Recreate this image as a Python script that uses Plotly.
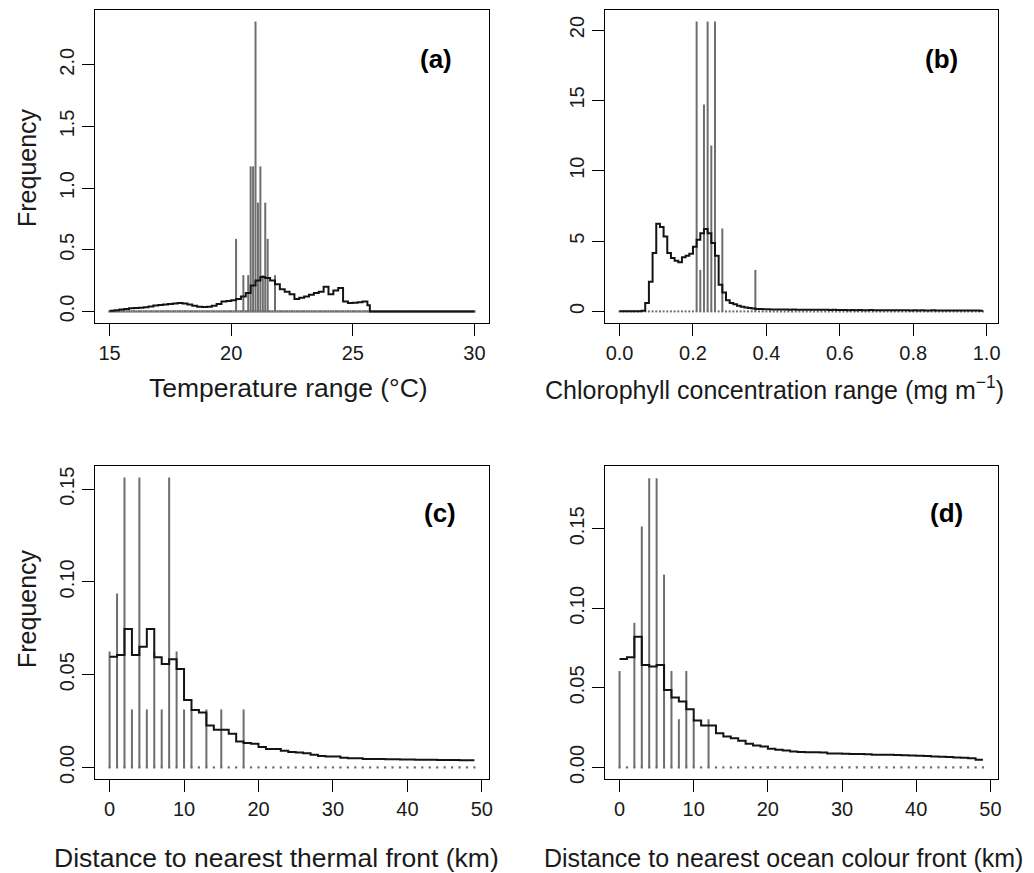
import plotly.graph_objects as go

W, H = 1034, 873

# ---------------- data ----------------
# (a) Temperature range
a_grid_start, a_grid_step, a_grid_n = 15.0, 0.1, 151
a_spike_x = [20.2, 20.5, 20.7, 20.8, 20.9, 21.0, 21.1, 21.2, 21.3, 21.4, 21.5, 21.8]
a_spike_y = [0.588, 0.294, 0.294, 1.176, 1.176, 2.35, 0.882, 1.176, 0.294, 0.882, 0.588, 0.294]
a_step_start, a_step_width = 15.0, 0.2
a_step_y = [0.005, 0.010, 0.015, 0.020, 0.025, 0.027, 0.030, 0.033, 0.040, 0.048,
            0.052, 0.056, 0.060, 0.064, 0.068, 0.064, 0.055, 0.045, 0.038, 0.035,
            0.037, 0.045, 0.060, 0.080, 0.085, 0.090, 0.100, 0.120, 0.150, 0.210,
            0.250, 0.280, 0.270, 0.250, 0.220, 0.180, 0.160, 0.140, 0.100, 0.110,
            0.120, 0.135, 0.150, 0.160, 0.200, 0.140, 0.170, 0.190, 0.080, 0.068,
            0.070, 0.075, 0.080, 0.050]
a_step_end, a_xmax = 25.7, 30.0

# (b) Chlorophyll concentration range
b_grid_start, b_grid_step, b_grid_n = 0.0, 0.01, 100
b_spike_x = [0.21, 0.22, 0.23, 0.24, 0.25, 0.26, 0.28, 0.37]
b_spike_y = [20.6, 2.95, 14.7, 20.6, 11.8, 20.6, 5.9, 2.95]
b_step_start, b_step_width = 0.0, 0.01
b_step_y = [0.02, 0.02, 0.02, 0.02, 0.02, 0.02, 0.05, 0.60, 2.10, 4.15,
            6.23, 6.00, 5.33, 4.15, 3.79, 3.60, 3.50, 3.85, 3.95, 4.10,
            4.60, 5.10, 5.56, 5.85, 5.56, 4.86, 3.95, 1.90, 1.35, 0.80,
            0.60, 0.50, 0.40, 0.33, 0.28, 0.24, 0.20, 0.17, 0.17, 0.16,
            0.15, 0.14, 0.14, 0.13, 0.14, 0.13, 0.12, 0.13, 0.12, 0.12,
            0.12, 0.11, 0.12, 0.11, 0.11, 0.12, 0.11, 0.10, 0.11, 0.10,
            0.10, 0.10, 0.09, 0.10, 0.09, 0.10, 0.09, 0.09, 0.10, 0.09,
            0.08, 0.09, 0.08, 0.09, 0.08, 0.08, 0.09, 0.08, 0.08, 0.07,
            0.08, 0.07, 0.08, 0.07, 0.07, 0.08, 0.07, 0.07, 0.06, 0.07,
            0.07, 0.06, 0.07, 0.06, 0.06, 0.07, 0.06, 0.06, 0.05]

# (c) Distance to nearest thermal front (km)
c_spike_y = [0.0625, 0.09375, 0.15625, 0.03125, 0.15625, 0.03125, 0.0625, 0.03125,
             0.15625, 0.0625, 0.03125, 0.03125, 0.0, 0.03125, 0.0, 0.03125, 0.0, 0.0,
             0.03125] + [0.0] * 31
c_step_y = [0.0597, 0.0606, 0.0746, 0.0606, 0.0651, 0.0746, 0.0594, 0.0558, 0.0583, 0.0531,
            0.0364, 0.0310, 0.0296, 0.0226, 0.0203, 0.0203, 0.0181, 0.0140, 0.0131, 0.0127,
            0.0110, 0.0099, 0.0099, 0.0090, 0.0083, 0.0081, 0.0077, 0.0068, 0.0061, 0.0059,
            0.0059, 0.0052, 0.0050, 0.0049, 0.0046, 0.0045, 0.0045, 0.0044, 0.0044, 0.0043,
            0.0042, 0.0041, 0.0041, 0.0041, 0.0040, 0.0040, 0.0040, 0.0039, 0.0038]

# (d) Distance to nearest ocean colour front (km)
d_spike_y = [0.0606, 0.0, 0.0909, 0.1515, 0.1818, 0.1818, 0.1212, 0.0606, 0.0303, 0.0606,
             0.0303, 0.0, 0.0303] + [0.0] * 37
d_step_y = [0.0682, 0.0692, 0.0822, 0.0644, 0.0634, 0.0644, 0.0487, 0.0439, 0.0414, 0.0366,
            0.0295, 0.0263, 0.0263, 0.0215, 0.0194, 0.0184, 0.0167, 0.0148, 0.0138, 0.0132,
            0.0117, 0.0111, 0.0107, 0.0100, 0.0097, 0.0096, 0.0095, 0.0094, 0.0088, 0.0087,
            0.0086, 0.0085, 0.0084, 0.0083, 0.0080, 0.0079, 0.0079, 0.0078, 0.0077, 0.0075,
            0.0073, 0.0071, 0.0069, 0.0067, 0.0065, 0.0062, 0.0060, 0.0057, 0.0048]

a_xticks = [15, 20, 25, 30]
a_yticks = [0.0, 0.5, 1.0, 1.5, 2.0]
a_yticklabels = ["0.0", "0.5", "1.0", "1.5", "2.0"]
b_xticks = [0.0, 0.2, 0.4, 0.6, 0.8, 1.0]
b_xticklabels = ["0.0", "0.2", "0.4", "0.6", "0.8", "1.0"]
b_yticks = [0, 5, 10, 15, 20]
cd_xticks = [0, 10, 20, 30, 40, 50]
cd_yticks = [0.0, 0.05, 0.10, 0.15]
cd_yticklabels = ["0.00", "0.05", "0.10", "0.15"]

panel_labels = ["(a)", "(b)", "(c)", "(d)"]
x_titles = ["Temperature range (°C)",
            "Chlorophyll concentration range (mg m<sup>−1</sup>)",
            "Distance to nearest thermal front (km)",
            "Distance to nearest ocean colour front (km)"]
y_title = "Frequency"

# ---------------- styling ----------------
SPIKE = "#6e6e6e"
STEP = "#141414"
FONT = "Liberation Sans, Arial, Helvetica, sans-serif"

fig = go.Figure()


def spikes(xs, ys):
    px, py = [], []
    for x, y in zip(xs, ys):
        if y > 0:
            px += [x, x, None]
            py += [0, y, None]
    return px, py


def add_panel(n, grid_x, spike_x, spike_y, step_edges, step_y, dot_size):
    xa, ya = f"x{n}", f"y{n}"
    # zero-height "spikes" appear as dots along the baseline
    fig.add_trace(go.Scatter(x=grid_x, y=[0] * len(grid_x), mode="markers",
                             marker=dict(color=SPIKE, size=dot_size, symbol="square",
                                         line=dict(width=0)),
                             xaxis=xa, yaxis=ya, showlegend=False, hoverinfo="skip"))
    sx, sy = spikes(spike_x, spike_y)
    fig.add_trace(go.Scatter(x=sx, y=sy, mode="lines",
                             line=dict(color=SPIKE, width=2),
                             xaxis=xa, yaxis=ya, showlegend=False))
    fig.add_trace(go.Scatter(x=step_edges, y=list(step_y) + [step_y[-1]], mode="lines",
                             line=dict(color=STEP, width=2, shape="hv"),
                             xaxis=xa, yaxis=ya, showlegend=False))


# (a)
a_grid = [round(a_grid_start + a_grid_step * i, 2) for i in range(a_grid_n)]
a_edges = [round(a_step_start + a_step_width * i, 2) for i in range(len(a_step_y))]
add_panel(1, a_grid, a_spike_x, a_spike_y,
          a_edges + [a_step_end, a_xmax], a_step_y + [0.0], 2.4)
# (b)
b_grid = [round(b_grid_start + b_grid_step * i, 3) for i in range(b_grid_n)]
b_edges = [round(b_step_start + b_step_width * i, 3) for i in range(len(b_step_y) + 1)]
add_panel(2, b_grid, b_spike_x, b_spike_y, b_edges, b_step_y, 2.0)
# (c)
c_grid = list(range(len(c_spike_y)))
add_panel(3, c_grid, c_grid, c_spike_y, list(range(len(c_step_y) + 1)), c_step_y, 2.2)
# (d)
d_grid = list(range(len(d_spike_y)))
add_panel(4, d_grid, d_grid, d_spike_y, list(range(len(d_step_y) + 1)), d_step_y, 2.2)


def px_x(p):
    return p / W


def px_y(p):
    return 1 - p / H


axis_common = dict(showline=True, mirror=True, linecolor="black", linewidth=1.3,
                   ticks="outside", ticklen=12, tickwidth=1.3, tickcolor="black",
                   showgrid=False, zeroline=False, automargin=False,
                   tickfont=dict(family=FONT, size=20, color="#1a1a1a"))

left_dom = [px_x(95), px_x(489)]
right_dom = [px_x(605), px_x(997.5)]
top_dom = [px_y(323), px_y(10)]
bot_dom = [px_y(779), px_y(466)]

layout = dict(
    template="none",
    width=W, height=H, margin=dict(l=0, r=0, t=0, b=0, pad=0),
    paper_bgcolor="white", plot_bgcolor="white", showlegend=False,
    xaxis=dict(domain=left_dom, range=[14.4, 30.6], tickvals=a_xticks, anchor="y", **axis_common),
    yaxis=dict(domain=top_dom, range=[-0.094, 2.444], tickvals=a_yticks, ticktext=a_yticklabels,
               tickangle=-90, anchor="x", **axis_common),
    xaxis2=dict(domain=right_dom, range=[-0.0396, 1.0296], tickvals=b_xticks, ticktext=b_xticklabels,
                anchor="y2", **axis_common),
    yaxis2=dict(domain=top_dom, range=[-0.824, 21.424], tickvals=b_yticks, tickangle=-90,
                anchor="x2", **axis_common),
    xaxis3=dict(domain=left_dom, range=[-1.96, 50.96], tickvals=cd_xticks, anchor="y3", **axis_common),
    yaxis3=dict(domain=bot_dom, range=[-0.00625, 0.1625], tickvals=cd_yticks, ticktext=cd_yticklabels,
                tickangle=-90, anchor="x3", **axis_common),
    xaxis4=dict(domain=right_dom, range=[-1.96, 50.96], tickvals=cd_xticks, anchor="y4", **axis_common),
    yaxis4=dict(domain=bot_dom, range=[-0.00729, 0.1895], tickvals=cd_yticks, ticktext=cd_yticklabels,
                tickangle=-90, anchor="x4", **axis_common),
)
fig.update_layout(**layout)

# panel labels
label_pos = [(436, 59), (941, 59), (440, 513), (946, 513)]
for txt, (x, y) in zip(panel_labels, label_pos):
    fig.add_annotation(x=px_x(x), y=px_y(y), xref="paper", yref="paper", text=f"<b>{txt}</b>",
                       showarrow=False, xanchor="center", yanchor="middle",
                       font=dict(family=FONT, size=26, color="black"))

# x titles
xt_pos = [(288, 388, 26.5), (774, 388, 25), (276, 858, 26.5), (783, 858, 25)]
for txt, (x, y, fs) in zip(x_titles, xt_pos):
    fig.add_annotation(x=px_x(x), y=px_y(y), xref="paper", yref="paper", text=txt,
                       showarrow=False, xanchor="center", yanchor="middle",
                       font=dict(family=FONT, size=fs, color="#1a1a1a"))

# y titles
for y in (168, 609):
    fig.add_annotation(x=px_x(27), y=px_y(y), xref="paper", yref="paper", text=y_title,
                       showarrow=False, xanchor="center", yanchor="middle", textangle=-90,
                       font=dict(family=FONT, size=25, color="#1a1a1a"))

fig.write_html("out.html", config={"displayModeBar": False},
               post_script="document.body.style.margin='0px';document.body.style.padding='0px';")
